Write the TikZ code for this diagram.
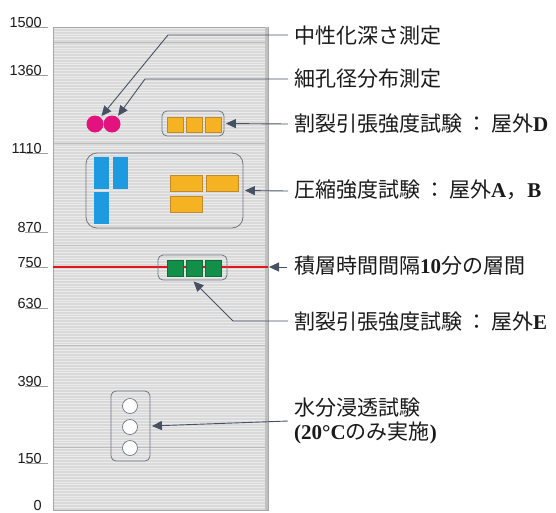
\documentclass[tikz,border=0pt]{standalone}
\usepackage{fontspec}
\setmainfont{Liberation Serif}
\newfontfamily\jpfont{Noto Sans CJK JP}
\newfontfamily\numfont{Liberation Sans}
\usetikzlibrary{arrows.meta}
\definecolor{panelbg}{HTML}{D9D9D9}
\definecolor{stripec}{HTML}{EBEBEB}
\definecolor{majorc}{HTML}{BDBDBD}
\definecolor{borderc}{HTML}{A6A6A6}
\definecolor{grpc}{HTML}{6E7783}
\definecolor{arrc}{HTML}{465264}
\definecolor{txtc}{HTML}{1A1A1A}
\definecolor{orangeF}{HTML}{F5B324}
\definecolor{orangeD}{HTML}{C08A2B}
\definecolor{blueF}{HTML}{1E9BE0}
\definecolor{greenF}{HTML}{12904A}
\definecolor{greenD}{HTML}{0C6E36}
\definecolor{magF}{HTML}{E2127E}
\definecolor{redL}{HTML}{E8141C}
\newcommand\latb[1]{{\rmfamily\bfseries #1}}
\begin{document}
\begin{tikzpicture}[x=1pt,y=-1pt,
  lbl/.style={anchor=west, inner sep=0pt, text=txtc, font=\jpfont\fontsize{21}{24}\selectfont},
  num/.style={anchor=base east, inner sep=0pt, text=txtc, font=\numfont\fontsize{14.5}{16}\selectfont},
  tick/.style={draw=gray!75, line width=0.6pt},
  grp/.style={draw=grpc, line width=0.8pt, rounded corners=5pt, inner sep=0pt},
  obox/.style={fill=orangeF, draw=orangeD, line width=0.6pt, inner sep=0pt, minimum width=16pt, minimum height=15pt},
  owide/.style={fill=orangeF, draw=orangeD, line width=0.6pt, inner sep=0pt, minimum width=32pt, minimum height=16pt},
  bbox/.style={fill=blueF, inner sep=0pt, minimum width=15pt, minimum height=32pt},
  gbox/.style={fill=greenF, draw=greenD, line width=0.5pt, inner sep=0pt, minimum width=16pt, minimum height=16pt},
  mdot/.style={circle, fill=magF, inner sep=0pt, minimum size=17pt},
  wdot/.style={circle, fill=white, draw=grpc, line width=0.7pt, inner sep=0pt, minimum size=15pt},
  leader/.style={draw=arrc, line width=0.9pt},
  arr/.style={leader, -{Triangle[length=10pt,width=9pt]}, shorten >=1.5pt}
]
\useasboundingbox (0,0) rectangle (556,512);
\fill[white] (0,0) rectangle (556,512);
% panel
\fill[panelbg] (53,27) rectangle (268,510);
\foreach \yy in {28.5,31.3,...,509} \draw[stripec, line width=1pt] (53,\yy) -- (268,\yy);
\foreach \yy in {42,143,245,345,447} \draw[majorc, line width=0.8pt] (53,\yy) -- (268,\yy);
\draw[borderc, line width=0.8pt] (53,27) rectangle (268,510);
\draw[borderc!70, line width=2.5pt] (266.5,27) -- (266.5,510);
% scale
\foreach \yy/\vv in {27/1500, 75/1360, 153/1110, 232/870, 267/750, 308/630, 386/390, 463/150} {
  \draw[tick] (25,\yy) -- (48,\yy);
  \node[num] (n\vv) at (42,\yy+0.5) {\vv};
}
\node[num] (n0) at (42,510) {0};
% red line
\draw[redL, line width=2.5pt] (53,267) -- (268,267);
\coordinate (redE) at (269,267);
% specimens
\node[mdot] (m1) at (95,124) {};
\node[mdot] (m2) at (112,124) {};
\node[grp, minimum width=62pt, minimum height=25pt] (gD) at (193,123.5) {};
\node[obox] (d1) at (175,124.5) {};
\node[obox] (d2) at (194,124.5) {};
\node[obox] (d3) at (213,124.5) {};
\node[grp, rounded corners=11pt, minimum width=157pt, minimum height=75pt] (gC) at (164.5,190.5) {};
\node[bbox] (b1) at (101.5,173) {};
\node[bbox] (b2) at (120.5,173) {};
\node[bbox] (b3) at (101.5,208) {};
\node[owide] (o1) at (186,183) {};
\node[owide] (o2) at (222,183) {};
\node[owide] (o3) at (186,204) {};
\node[grp, minimum width=69pt, minimum height=25pt] (gG) at (192.5,267.5) {};
\node[gbox] (e1) at (175,268) {};
\node[gbox] (e2) at (194,268) {};
\node[gbox] (e3) at (213,268) {};
\node[grp, minimum width=39pt, minimum height=70pt] (gW) at (130.5,426) {};
\node[wdot] (w1) at (130,406) {};
\node[wdot] (w2) at (130,427) {};
\node[wdot] (w3) at (130,448) {};
% labels
\node[lbl] (t1) at (294,36) {中性化深さ測定};
\node[lbl] (t2) at (294,79) {細孔径分布測定};
\node[lbl] (t3) at (294,124) {割裂引張強度試験\hspace{4pt}：\hspace{4pt}屋外\latb{D}};
\node[lbl] (t4) at (294,190) {圧縮強度試験\hspace{4pt}：\hspace{4pt}屋外\latb{A}，\latb{B}};
\node[lbl] (t5) at (294,266) {積層時間間隔\latb{10}分の層間};
\node[lbl] (t6) at (294,322) {割裂引張強度試験\hspace{4pt}：\hspace{4pt}屋外\latb{E}};
\node[lbl, align=left] (t7) at (294,421) {水分浸透試験\\\latb{(20°C}のみ実施\latb{)}};
% leaders
\coordinate (s1) at (288,35);  \coordinate (k1) at (168,35);
\coordinate (s2) at (288,79);  \coordinate (k2) at (145,79);
\coordinate (s3) at (288,124);
\coordinate (s4) at (288,191);
\coordinate (s5) at (287,267);
\coordinate (s6) at (288,321); \coordinate (k6) at (233,321);
\coordinate (s7) at (288,421);
\draw[arr] (s1) -- (k1) -- (m1);
\draw[arr] (s2) -- (k2) -- (m2);
\draw[arr] (s3) -- (gD.east);
\draw[arr] (s4) -- (gC.east);
\draw[arr, shorten >=0pt] (s5) -- (redE);
\draw[arr] (s6) -- (k6) -- (gG.south);
\draw[arr] (s7) -- (gW.east);
\end{tikzpicture}
\end{document}
